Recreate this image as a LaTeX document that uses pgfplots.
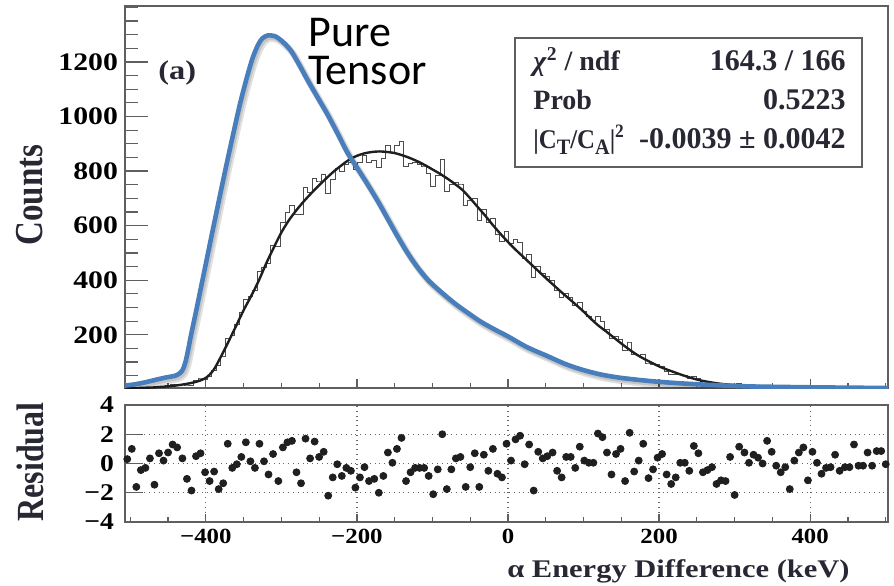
\documentclass[border=0pt]{standalone}
\usepackage{graphicx}
\usepackage{fontspec}
\setmainfont{Liberation Serif}
\newfontfamily\calibri{Carlito}
\usepackage{pgfplots}
\usepackage{pgfplotstable}
\pgfplotsset{compat=1.18}
\definecolor{tensorblue}{RGB}{72,126,188}
\definecolor{framegray}{RGB}{95,95,95}
\definecolor{labelink}{RGB}{40,40,52}
% wide bold labels, as in the ROOT figure
\newcommand{\W}[2][1.18]{\scalebox{#1}[1]{#2}}
\newcommand{\lowsub}[1]{\raisebox{-0.55ex}{\fontsize{11}{11}\selectfont #1}}

% bin centre, counts, normalised residual
\pgfplotstableread{
x h r
-504 5 0.3
-498 7 1.0
-492 2 -1.6
-486 4 -0.45
-480 5 -0.3
-474 8 0.35
-468 4 -1.45
-462 11 0.7
-456 10 0.2
-450 14 0.75
-444 18 1.3
-438 19 1.1
-431 19 0.35
-425 16 -1.05
-419 15 -1.85
-413 31 0.5
-407 38 0.7
-401 37 -0.6
-395 47 -1.2
-389 70 -0.55
-383 87 -1.75
-377 121 -1.35
-371 187 1.35
-365 199 -0.3
-359 237 -0.05
-353 280 0.45
-347 331 1.45
-341 340 0.15
-335 364 -0.3
-329 432 1.35
-323 446 0.15
-317 463 -0.75
-311 529 0.65
-304 525 -1.2
-298 611 1.1
-292 647 1.45
-286 674 1.55
-280 642 -0.6
-274 642 -1.35
-268 741 1.7
-262 723 0.35
-256 772 1.5
-250 760 0.45
-244 786 0.8
-238 719 -2.2
-232 769 -0.95
-226 808 -0.05
-220 798 -0.85
-214 825 -0.3
-208 830 -0.5
-202 805 -1.65
-196 832 -0.95
-190 858 -0.25
-184 833 -1.2
-177 840 -1.05
-171 813 -2.0
-165 846 -0.85
-159 892 0.75
-153 869 0.05
-147 893 1.0
-141 910 1.75
-135 818 -1.2
-129 829 -0.6
-123 831 -0.3
-117 823 -0.3
-111 815 -0.3
-105 790 -0.85
-99 745 -2.1
-93 784 -0.4
-87 841 2.0
-81 725 -1.75
-75 751 -0.4
-69 759 0.35
-63 749 0.45
-56 675 -1.6
-50 693 -0.25
-44 699 0.7
-38 620 -1.6
-32 658 0.6
-26 610 -0.5
-20 627 1.0
-14 566 -0.7
-8 541 -0.95
-2 578 1.35
4 533 0.2
10 549 1.65
16 539 1.9
22 480 -0.05
28 493 1.3
34 410 -1.85
40 451 0.8
46 426 0.35
52 413 0.5
59 400 0.75
65 361 -0.5
71 338 -0.95
77 350 0.45
83 335 0.45
89 307 -0.3
95 317 1.15
101 286 0.2
107 267 0.05
113 251 0.05
119 267 2.05
125 249 1.8
131 221 0.75
137 186 -0.75
143 192 0.65
149 183 1.0
155 142 -1.2
161 170 2.1
167 127 -0.55
173 125 0.2
179 128 1.35
186 93 -1.0
192 91 -0.4
198 91 0.4
204 85 0.65
210 67 -0.75
216 56 -1.4
222 54 -0.95
228 55 0.05
234 50 0.05
240 41 -0.5
246 47 1.2
252 39 0.7
258 28 -0.6
264 26 -0.45
270 24 -0.25
276 16 -1.4
282 15 -1.15
288 13 -1.2
294 19 0.45
300 7 -2.15
306 20 1.15
313 17 0.75
319 13 0.05
325 15 0.6
331 13 0.4
337 11 0.0
343 16 1.55
349 13 0.8
355 9 -0.15
361 7 -0.6
367 8 -0.25
373 3 -1.75
379 9 0.2
385 10 0.75
391 10 1.1
397 4 -1.15
403 9 0.8
409 7 0.05
415 5 -0.7
421 6 -0.3
427 6 -0.25
433 8 0.6
439 5 -0.5
446 5 -0.25
452 5 -0.25
458 9 1.3
464 5 -0.15
470 5 -0.15
476 7 0.75
482 5 -0.15
488 7 0.85
494 7 0.85
500 5 -0.05
}\datatab

% pure tensor curve
\pgfplotstableread{
x y
-507 14
-495 18
-480 26
-465 36
-452 44
-442 49
-436 56
-431 70
-427 100
-423 150
-420 194
-413 285
-407 366
-400 460
-393 555
-386 648
-380 728
-372 832
-362 958
-354 1055
-345 1150
-338 1215
-331 1262
-325 1287
-318 1297
-311 1296
-305 1289
-296 1268
-287 1240
-276 1188
-265 1132
-252 1070
-239 1008
-226 940
-215 880
-208 847
-197 800
-186 752
-172 688
-159 624
-146 560
-133 500
-120 448
-106 401
-90 360
-71 316
-54 282
-36 248
-18 220
0 194
25 155
53 121
75 94
97 73
122 55
150 42
190 30
229 22
270 16
317 11
360 9
420 7
503 5
}\tensortab

\begin{document}
\begin{tikzpicture}
\path[use as bounding box] (0,0) rectangle (447pt,292.5pt);

% ---- upper pad: counts
\begin{axis}[
  at={(62.5pt,98.5pt)}, anchor=south west,
  width=381.5pt, height=191pt, scale only axis,
  xmin=-507, xmax=503, ymin=5, ymax=1405,
  axis line style={draw=framegray, line width=0.8pt},
  xtick={-400,-200,0,200,400}, xticklabels={},
  minor xtick={-500,-450,...,500},
  ytick={200,400,600,800,1000,1200},
  yticklabels={\W{200},\W{400},\W{600},\W{800},\W{1000},\W{1200}},
  minor ytick={50,100,...,1400},
  tick pos=left, tick align=inside,
  major tick length=4.5pt, minor tick length=2.5pt,
  ytick style={/pgfplots/major tick length=11.5pt,/pgfplots/minor tick length=6.5pt},
  tick style={draw=framegray, line width=0.6pt},
  yticklabel style={font=\bfseries\fontsize{12.6}{14}\selectfont},
]
\addplot[const plot mark mid, draw=black!70, line width=0.5pt] table[x=x,y=h]{\datatab};
% fit
\addplot[smooth, draw=black!88, line width=1.2pt] coordinates {
 (-507,4)(-490,5)(-480,6)(-470,7)(-460,9)(-450,11)(-440,14)(-430,18)(-420,23)
 (-410,30)(-400,42)(-390,70)(-380,120)(-370,175)(-360,232)(-350,290)(-340,342)
 (-330,398)(-320,462)(-310,520)(-300,575)(-290,620)(-280,657)(-270,690)(-260,720)
 (-250,748)(-240,775)(-230,800)(-220,822)(-210,842)(-200,856)(-190,865)(-180,870)
 (-170,872)(-160,870)(-150,866)(-140,858)(-130,848)(-120,836)(-110,822)(-100,806)
 (-90,790)(-80,772)(-70,752)(-60,730)(-50,700)(-40,668)(-30,636)(-20,602)(-10,570)
 (0,540)(10,512)(20,486)(30,460)(40,434)(50,408)(60,383)(70,358)(80,334)(90,310)
 (100,285)(110,258)(120,233)(130,212)(140,190)(150,168)(160,147)(170,128)(180,112)
 (190,98)(200,84)(210,73)(220,63)(230,53)(240,44)(250,36)(260,30)(270,25)(280,21)
 (290,18)(300,16)(320,13)(340,11)(360,9)(400,7)(450,6)(503,5)
};
% pure tensor overlay, with a soft shadow
\addplot[smooth, draw=black, opacity=0.12, line width=3.4pt, xshift=1.2pt, yshift=-1.6pt] table[x=x,y=y]{\tensortab};
\addplot[smooth, draw=black, opacity=0.12, line width=2.6pt, xshift=0.7pt, yshift=-1pt] table[x=x,y=y]{\tensortab};
\addplot[smooth, draw=tensorblue, line width=2.3pt] table[x=x,y=y]{\tensortab};
\end{axis}

% ---- lower pad: residuals
\begin{axis}[
  at={(62.5pt,31.5pt)}, anchor=south west,
  width=381.5pt, height=58.5pt, scale only axis,
  xmin=-507, xmax=503, ymin=-4, ymax=4,
  axis line style={draw=framegray, line width=0.8pt},
  xtick={-400,-200,0,200,400},
  xticklabels={\W[1.15]{−400},\W[1.15]{−200},\W[1.15]{0},\W[1.15]{200},\W[1.15]{400}},
  minor xtick={-500,-450,...,500},
  ytick={-4,-2,0,2,4},
  yticklabels={\W[1.15]{−4},\W[1.15]{−2},\W[1.15]{0},\W[1.15]{2},\W[1.15]{4}},
  tick pos=left, tick align=inside,
  major tick length=4pt, minor tick length=2.5pt,
  ytick style={/pgfplots/major tick length=9pt},
  tick style={draw=framegray, line width=0.6pt},
  grid=major, grid style={dotted, draw=black!60, line width=0.6pt},
  xticklabel style={font=\bfseries\fontsize{10.8}{12}\selectfont},
  yticklabel style={font=\bfseries\fontsize{12}{13}\selectfont, xshift=-2pt},
]
\addplot[only marks, mark=*, mark size=1.75pt, color=black!88] table[x=x,y=r]{\datatab};
\end{axis}

% ---- titles and annotations
\node[rotate=90, font=\bfseries\fontsize{16.5}{18}\selectfont, text=labelink] at (15pt,195pt) {\scalebox{1}[1.2]{Counts}};
\node[rotate=90, font=\bfseries\fontsize{16}{18}\selectfont, text=labelink] at (15pt,61.5pt) {\scalebox{1}[1.2]{Residual}};
\node[anchor=base east, inner sep=0, font=\bfseries\fontsize{12.7}{14}\selectfont, text=labelink] at (425pt,4pt) {\W[1.2]{α Energy Difference (keV)}};
\node[anchor=base west, inner sep=0, font=\bfseries\fontsize{13.5}{15}\selectfont, text=labelink] at (79pt,252.5pt) {\W[1.2]{(a)}};
\node[anchor=base west, inner sep=0, align=left, font=\calibri\fontsize{22}{19}\selectfont] at (154pt,250pt) {Pure\\Tensor};

\draw[framegray, line width=0.6pt, fill=white] (257.5pt,209pt) rectangle (431pt,273.5pt);
\begin{scope}[every node/.style={inner sep=0, font=\bfseries\fontsize{15}{17}\selectfont, text=labelink}]
\node[anchor=base west] at (266.5pt,257.2pt) {\fontsize{14}{16}\selectfont\textit{χ}\textsuperscript{2} / ndf};
\node[anchor=base east] at (423pt,257.2pt) {164.3 / 166};
\node[anchor=base west] at (266.5pt,237.5pt) {\fontsize{14}{16}\selectfont Prob};
\node[anchor=base east] at (423pt,237.5pt) {0.5223};
\node[anchor=base west] at (266.5pt,218.5pt) {\fontsize{13.5}{16}\selectfont\scalebox{0.92}[1]{|C\lowsub{T}/C\lowsub{A}|\textsuperscript{2}}};
\node[anchor=base east] at (423pt,218.5pt) {-0.0039 ± 0.0042};
\end{scope}
\end{tikzpicture}
\end{document}
